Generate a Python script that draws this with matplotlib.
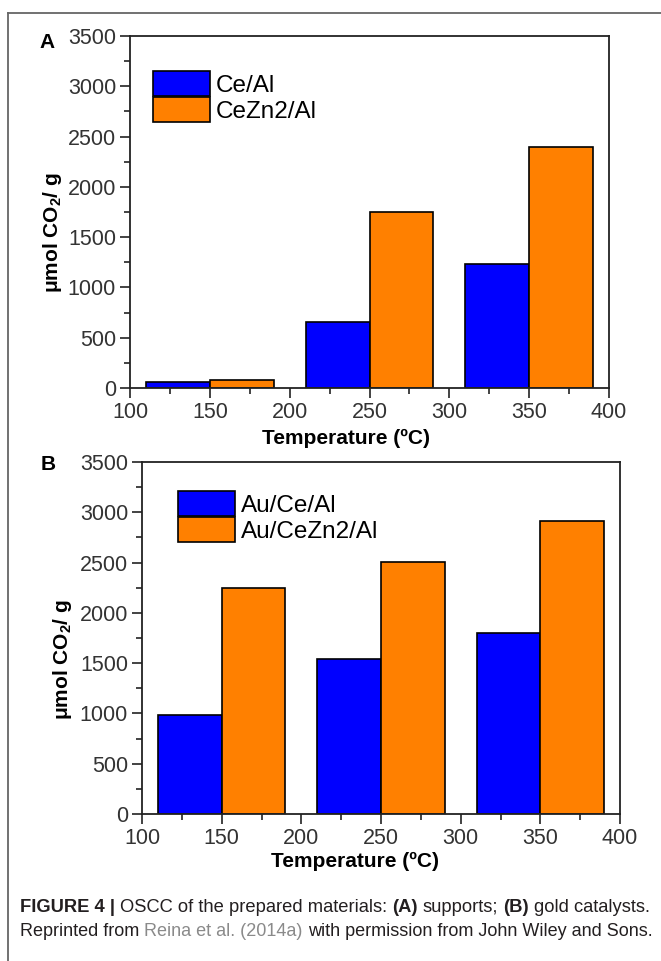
import matplotlib
matplotlib.use("Agg")
import matplotlib.pyplot as plt
from matplotlib import font_manager
from matplotlib.lines import Line2D

# data
temps = [150, 250, 350]
ce_al = [56, 655, 1228]
cezn2_al = [84, 1748, 2395]
au_ce_al = [980, 1540, 1800]
au_cezn2_al = [2245, 2508, 2918]
labels_a = ["Ce/Al", "CeZn2/Al"]
labels_b = ["Au/Ce/Al", "Au/CeZn2/Al"]

W, H = 661, 961
BLUE = "#0000ff"
ORANGE = "#ff8000"
TXT = "#333333"

plt.rcParams["font.family"] = ["Liberation Sans", "DejaVu Sans"]
plt.rcParams["mathtext.fontset"] = "custom"
plt.rcParams["mathtext.rm"] = "Liberation Sans"
plt.rcParams["mathtext.bf"] = "Liberation Sans:bold"

names = set(f.name for f in font_manager.fontManager.ttflist)
cap_font = "Liberation Sans Narrow" if "Liberation Sans Narrow" in names else "Liberation Sans"

fig = plt.figure(figsize=(W / 100, H / 100), dpi=100)


def px_axes(l, t, r, b):
    return fig.add_axes([l / W, 1 - b / H, (r - l) / W, (b - t) / H])


def panel(ax, s1, s2, labels, leg_xy):
    ax.bar(temps, s1, width=-40, align="edge", color=BLUE, edgecolor="black", lw=1.2, label=labels[0])
    ax.bar(temps, s2, width=40, align="edge", color=ORANGE, edgecolor="black", lw=1.2, label=labels[1])
    ax.set_xlim(100, 400)
    ax.set_ylim(0, 3500)
    ax.set_xticks(range(100, 401, 50))
    ax.set_xticks(range(125, 400, 50), minor=True)
    ax.set_yticks(range(0, 3501, 500))
    ax.set_yticks(range(250, 3500, 500), minor=True)
    ax.tick_params(which="major", length=7, width=1.2, labelsize=15.5, labelcolor=TXT, color="#222222")
    ax.tick_params(which="minor", length=4, width=1.2, color="#222222")
    ax.tick_params(axis="y", pad=3)
    ax.tick_params(axis="x", pad=3)
    for sp in ax.spines.values():
        sp.set_linewidth(1.3)
        sp.set_color("#222222")
    fs = 17.5
    fpx = fs * 100 / 72
    ax.legend(loc="upper left", bbox_to_anchor=(leg_xy[0] / W, 1 - leg_xy[1] / H),
              bbox_transform=fig.transFigure, frameon=False, fontsize=fs,
              handlelength=57 / fpx, handleheight=30 / fpx,
              handletextpad=0.25, labelspacing=0.0, borderpad=0, borderaxespad=0)


ax_a = px_axes(130, 36, 609, 388)
panel(ax_a, ce_al, cezn2_al, labels_a, (153, 71))
ax_b = px_axes(142, 462, 620, 814)
panel(ax_b, au_ce_al, au_cezn2_al, labels_b, (178, 491))

ylab = r"μmol CO$_\mathbf{2}$/ g"
fig.text(53 / W, 1 - 233 / H, ylab, rotation=90, fontsize=15, fontweight="bold", ha="center", va="center")
fig.text(63 / W, 1 - 660 / H, ylab, rotation=90, fontsize=15, fontweight="bold", ha="center", va="center")
fig.text(346 / W, 1 - 438 / H, "Temperature (ºC)", fontsize=15, fontweight="bold", ha="center", va="center")
fig.text(355 / W, 1 - 861 / H, "Temperature (ºC)", fontsize=15, fontweight="bold", ha="center", va="center")
fig.text(47 / W, 1 - 43 / H, "A", fontsize=15, fontweight="bold", ha="center", va="center")
fig.text(48 / W, 1 - 465 / H, "B", fontsize=15, fontweight="bold", ha="center", va="center")

# outer frame
fig.add_artist(Line2D([8 / W, 1], [1 - 12.5 / H, 1 - 12.5 / H], transform=fig.transFigure, color="#666666", lw=1.3))
fig.add_artist(Line2D([8 / W, 8 / W], [1 - 12.5 / H, 0], transform=fig.transFigure, color="#666666", lw=1.3))

# caption
renderer = fig.canvas.get_renderer()
cap_col = "#231f20"


def text_w(s, size):
    t = fig.text(0, 0, s, fontsize=size, family=cap_font)
    w = t.get_window_extent(renderer).width
    t.remove()
    return w


def put_runs(x, y, runs, size):
    space = text_w("a a", size) - text_w("aa", size)
    for s, weight, color in runs:
        lead = space if s.startswith(" ") else 0
        t = fig.text((x + lead) / W, 1 - y / H, s.strip(), fontsize=size, fontweight=weight,
                     color=color, family=cap_font, va="center", ha="left")
        x += lead + t.get_window_extent(renderer).width
        if s.endswith(" "):
            x += space


put_runs(20, 908, [("FIGURE 4 |", "bold", cap_col),
                   (" OSCC of the prepared materials: ", "normal", cap_col),
                   ("(A)", "bold", cap_col),
                   (" supports; ", "normal", cap_col),
                   ("(B)", "bold", cap_col),
                   (" gold catalysts.", "normal", cap_col)], 13.2)
put_runs(20, 932, [("Reprinted from ", "normal", cap_col),
                   ("Reina et al. (2014a)", "normal", "#8a8a8a"),
                   (" with permission from John Wiley and Sons.", "normal", cap_col)], 12.95)

fig.savefig("out.png", dpi=100)
